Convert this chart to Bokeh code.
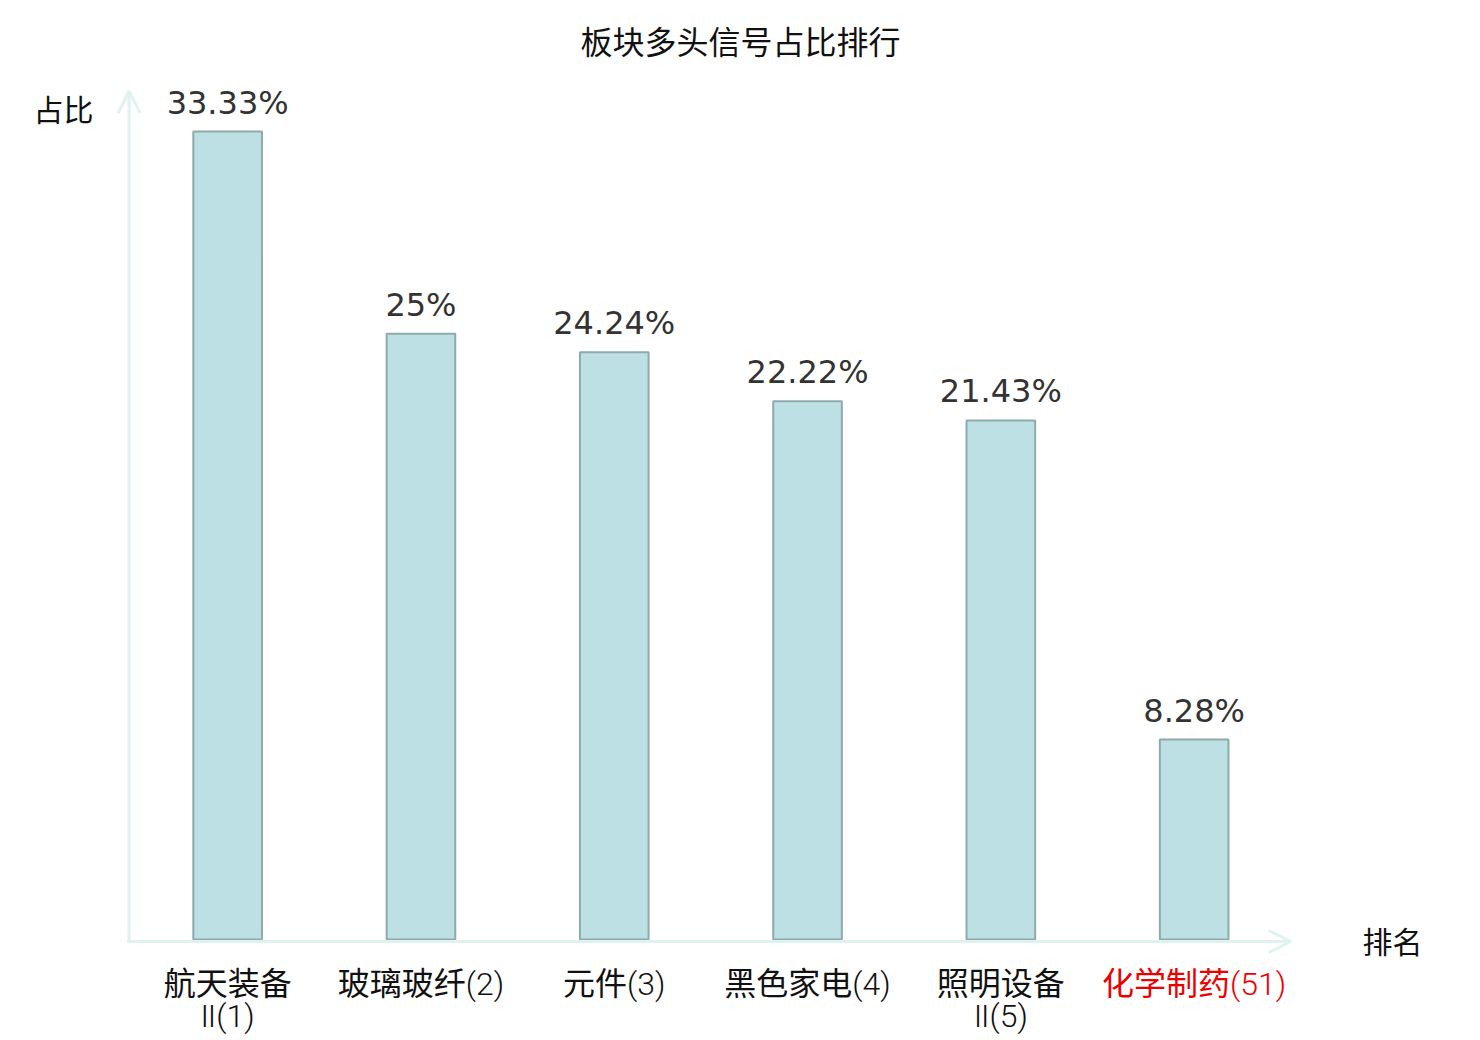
from bokeh.plotting import figure
from bokeh.models import Range1d, Arrow, OpenHead, ColumnDataSource
from bokeh.core.properties import value
from bokeh.embed import file_html
from bokeh.resources import INLINE

categories = ["航天装备\nⅡ(1)", "玻璃玻纤(2)", "元件(3)", "黑色家电(4)", "照明设备\nⅡ(5)", "化学制药(51)"]
values = [33.33, 25, 24.24, 22.22, 21.43, 8.28]
value_labels = ["33.33%", "25%", "24.24%", "22.22%", "21.43%", "8.28%"]
label_colors = ["#111111", "#111111", "#111111", "#111111", "#111111", "#ee0000"]

W, H = 1476, 1038
# pixel mapping: canvas x = X0 + XU*d ; canvas y = Y0 - YU*v
XU, X0 = 193.3, 130.5
YU, Y0 = 24.27, 940.0
x_range = Range1d(-X0 / XU, (W - X0) / XU)
y_range = Range1d(-(H - Y0) / YU, Y0 / YU)

p = figure(width=W, height=H, x_range=x_range, y_range=y_range,
           output_backend="svg", toolbar_location=None, min_border=0)
p.axis.visible = False
p.grid.visible = False
p.outline_line_color = None
p.background_fill_color = "white"

xs = [i + 0.5 for i in range(len(categories))]
src = ColumnDataSource(dict(x=xs, top=values, lab=value_labels, cat=categories, col=label_colors))

axis_col = "#dff2ef"
p.add_layout(Arrow(end=OpenHead(size=22, line_color=axis_col, line_width=3),
                   x_start=-0.01, y_start=-0.04, x_end=-0.01, y_end=35.0,
                   line_color=axis_col, line_width=3))
p.add_layout(Arrow(end=OpenHead(size=22, line_color=axis_col, line_width=3),
                   x_start=-0.02, y_start=-0.04, x_end=6.0, y_end=-0.04,
                   line_color=axis_col, line_width=3))

p.vbar(x="x", top="top", bottom=0.04, width=0.355, source=src,
       fill_color="#bce0e3", line_color="#8faaab", line_width=2)

p.text(x="x", y="top", text="lab", source=src, text_align="center", text_baseline="bottom",
       y_offset=-10, text_font=value("DejaVu Sans"), text_font_size="32px", text_color="#333333")

lab_font = value("'Roboto Light', 'Noto Sans CJK SC'")
p.text(x="x", y=0, text="cat", source=src, text_align="center", text_baseline="top",
       y_offset=24, text_font=lab_font, text_font_size="32px",
       text_color="col", text_line_height=0.86)

cjk = value("Noto Sans CJK SC")
p.text(x=[(740 - X0) / XU], y=[(Y0 - 39) / YU], text=["板块多头信号占比排行"],
       text_align="center", text_baseline="middle", text_font=cjk,
       text_font_size="32px", text_color="#111111")
p.text(x=[(63 - X0) / XU], y=[(Y0 - 107) / YU], text=["占比"],
       text_align="center", text_baseline="middle", text_font=cjk,
       text_font_size="30px", text_color="#111111")
p.text(x=[(1392 - X0) / XU], y=[(Y0 - 939) / YU], text=["排名"],
       text_align="center", text_baseline="middle", text_font=cjk,
       text_font_size="30px", text_color="#111111")

open("out.html", "w").write(file_html(p, INLINE))
